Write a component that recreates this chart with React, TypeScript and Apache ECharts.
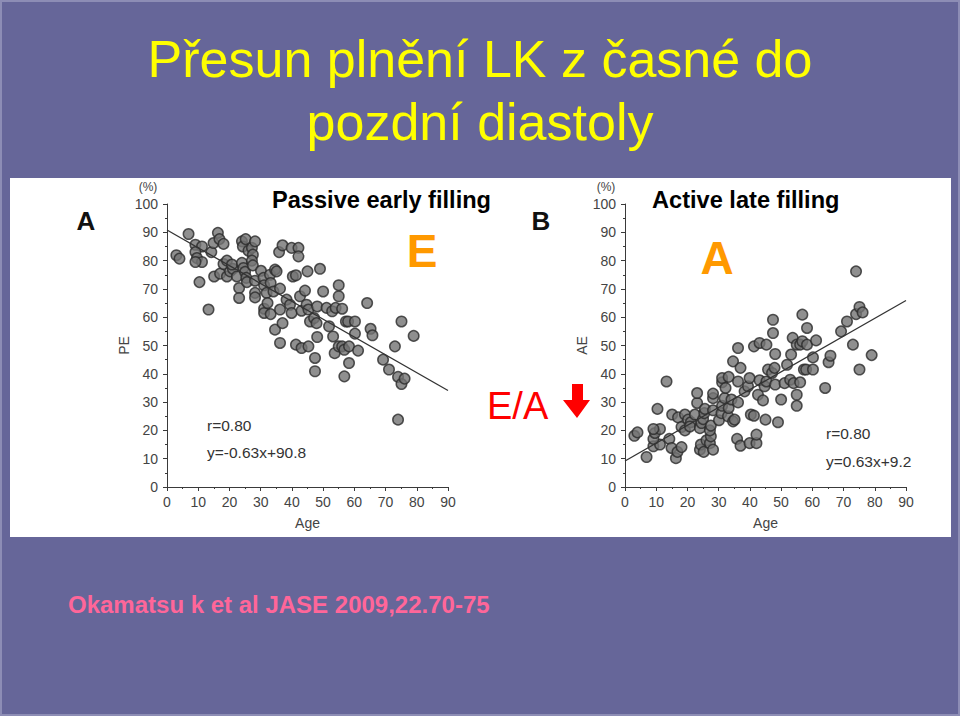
import React, { useEffect, useRef } from "react";
import * as echarts from "echarts";

const FONT = "'Liberation Sans', Arial, Helvetica, sans-serif";

// Ages of subjects (x) – same subjects in both panels
const ages = [3.0,4.0,6.9,9.1,11.2,9.1,9.6,11.2,9.1,10.4,13.3,14.2,14.9,16.3,16.8,18.1,15.1,17.0,18.1,19.2,19.2,20.2,21.1,20.8,22.4,23.1,23.1,24.0,24.3,25.2,24.0,24.5,25.0,25.4,25.6,26.1,27.2,27.5,27.2,27.5,28.2,28.2,28.2,28.2,30.1,30.9,31.1,31.1,31.1,31.9,32.2,33.0,33.2,33.2,34.1,34.6,35.1,34.6,35.9,36.2,36.2,36.2,37.0,37.0,38.3,39.4,39.9,40.3,39.9,41.3,42.1,42.1,41.3,43.1,42.6,43.1,44.2,44.7,45.0,45.3,45.3,45.8,47.1,47.9,47.4,47.4,48.1,48.1,49.0,50.0,51.1,51.9,53.2,53.7,52.9,54.0,55.0,55.0,55.0,56.1,56.1,56.8,56.8,57.3,58.0,58.3,58.3,60.2,60.2,61.2,64.1,65.2,65.8,69.2,71.1,73.0,74.0,75.1,75.1,76.1,74.0,79.0];

// Panel A: passive early filling (PE, %)
const peValues = [81.9,80.7,89.4,85.6,85.0,83.0,80.9,79.5,79.5,72.4,62.7,83.0,86.2,89.8,87.6,85.9,74.4,75.4,78.8,80.0,74.4,76.2,77.1,78.6,74.4,70.3,66.8,86.8,85.0,87.6,79.2,77.4,76.0,73.9,72.4,83.5,84.5,82.1,80.0,78.3,86.8,72.9,68.6,67.0,76.4,73.9,71.3,63.0,61.5,68.6,65.0,75.0,72.1,61.1,69.1,76.8,76.2,55.6,83.0,70.1,62.7,50.9,85.4,57.9,66.2,64.4,84.5,74.4,61.5,74.8,84.5,81.5,50.3,49.1,67.4,62.3,69.4,64.4,76.2,62.7,49.7,58.5,59.7,57.9,45.6,40.9,63.8,53.0,77.1,69.1,63.3,56.8,53.2,47.3,62.1,63.3,71.3,67.4,49.7,63.0,49.7,48.5,39.1,58.5,58.5,49.7,43.8,58.5,54.2,48.2,65.0,55.9,53.6,45.0,41.5,49.7,38.9,58.5,36.4,38.3,23.8,53.4];

// Panel B: active late filling (AE, %)
const aeValues = [18.1,19.3,10.6,14.4,15.0,17.0,19.1,20.5,20.5,27.6,37.3,17.0,13.8,10.2,12.4,14.1,25.6,24.6,21.2,20.0,25.6,23.8,22.9,21.4,25.6,29.7,33.2,13.2,15.0,12.4,20.8,22.6,24.0,26.1,27.6,16.5,15.5,17.9,20.0,21.7,13.2,27.1,31.4,33.0,23.6,26.1,28.7,37.0,38.5,31.4,35.0,25.0,27.9,38.9,30.9,23.2,23.8,44.4,17.0,29.9,37.3,49.1,14.6,42.1,33.8,35.6,15.5,25.6,38.5,25.2,15.5,18.5,49.7,50.9,32.6,37.7,30.6,35.6,23.8,37.3,50.3,41.5,40.3,42.1,54.4,59.1,36.2,47.0,22.9,30.9,36.7,43.2,46.8,52.7,37.9,36.7,28.7,32.6,50.3,37.0,50.3,51.5,60.9,41.5,41.5,50.3,56.2,41.5,45.8,51.8,35.0,44.1,46.4,55.0,58.5,50.3,61.1,41.5,63.6,61.7,76.2,46.6];

// Regression lines (endpoints at Age 0 and 90)
const regA = [[0, 90.8], [90, 34.1]];
const regB = [[0, 9.2], [90, 65.9]];

const titleLines = ["Přesun plnění LK z časné do", "pozdní diastoly"];
const citation = "Okamatsu k et al JASE 2009,22.70-75";

function axisPair(gridIndex: number, yName: string) {
  const common = {
    axisLine: { show: true, lineStyle: { color: "#3a3a3a", width: 1 } },
    axisTick: { show: true, length: 4, lineStyle: { color: "#3a3a3a" } },
    minorTick: { show: true, splitNumber: 2, length: 2, lineStyle: { color: "#3a3a3a" } },
    splitLine: { show: false },
    axisLabel: { color: "#444", fontSize: 14, fontFamily: FONT },
    nameTextStyle: { color: "#444", fontSize: 14, fontFamily: FONT },
  };
  const x = {
    ...common,
    type: "value",
    gridIndex,
    min: 0,
    max: 90,
    interval: 10,
    name: "Age",
    nameLocation: "middle",
    nameGap: 29,
    axisLabel: { ...common.axisLabel, margin: 8 },
  };
  const y = {
    ...common,
    type: "value",
    gridIndex,
    min: 0,
    max: 100,
    interval: 10,
    name: yName,
    nameLocation: "middle",
    nameGap: 36,
    axisLabel: { ...common.axisLabel, margin: 9 },
  };
  return { x, y };
}

export default function App() {
  const ref = useRef<HTMLDivElement>(null);
  useEffect(() => {
    if (!ref.current) return;
    const chart = echarts.init(ref.current, undefined, { renderer: "svg" });
    const a = axisPair(0, "PE");
    const b = axisPair(1, "AE");
    const ptsA = ages.map((x, i) => [x, peValues[i]]);
    const ptsB = ages.map((x, i) => [x, aeValues[i]]);
    const dot = {
      color: "#737373",
      borderColor: "#2a2a2a",
      borderWidth: 1.5,
    };
    const txt = (x: number, y: number, text: string, style: any) => ({
      type: "text",
      x,
      y,
      z: 50,
      style: {
        text,
        fontFamily: FONT,
        verticalAlign: "middle",
        align: "left",
        ...style,
      },
    });
    chart.setOption({
      animation: false,
      backgroundColor: "#666699",
      grid: [
        { left: 167, top: 204, width: 281, height: 283 },
        { left: 625, top: 204, width: 281, height: 283 },
      ],
      xAxis: [a.x, b.x],
      yAxis: [a.y, b.y],
      series: [
        {
          type: "scatter",
          xAxisIndex: 0,
          yAxisIndex: 0,
          data: ptsA,
          symbolSize: 10.5,
          itemStyle: dot,
          z: 3,
        },
        {
          type: "line",
          xAxisIndex: 0,
          yAxisIndex: 0,
          data: regA,
          symbol: "none",
          lineStyle: { color: "#333", width: 1.3 },
          z: 4,
        },
        {
          type: "scatter",
          xAxisIndex: 1,
          yAxisIndex: 1,
          data: ptsB,
          symbolSize: 10.5,
          itemStyle: dot,
          z: 3,
        },
        {
          type: "line",
          xAxisIndex: 1,
          yAxisIndex: 1,
          data: regB,
          symbol: "none",
          lineStyle: { color: "#333", width: 1.3 },
          z: 4,
        },
      ],
      graphic: [
        {
          type: "rect",
          z: -10,
          shape: { x: 10, y: 178, width: 941, height: 359 },
          style: { fill: "#ffffff" },
        },
        {
          type: "rect",
          z: -10,
          shape: { x: 1, y: 1, width: 958, height: 714 },
          style: { fill: "none", stroke: "#8d8db5", lineWidth: 2 },
        },
        txt(480, 59, titleLines[0], { fill: "#ffff00", fontSize: 52, align: "center" }),
        txt(480, 122, titleLines[1], { fill: "#ffff00", fontSize: 52, align: "center" }),
        txt(272, 200, "Passive early filling", { fill: "#000", fontSize: 23.6, fontWeight: "bold" }),
        txt(652, 200, "Active late filling", { fill: "#000", fontSize: 23.6, fontWeight: "bold" }),
        txt(422, 251, "E", { fill: "#ff9900", fontSize: 46, fontWeight: "bold", align: "center" }),
        txt(717, 258, "A", { fill: "#ff9900", fontSize: 46, fontWeight: "bold", align: "center" }),
        txt(487, 406, "E/A", { fill: "#ff0000", fontSize: 38 }),
        {
          type: "polygon",
          z: 50,
          shape: {
            points: [
              [572, 384], [583, 384], [583, 400], [590, 400],
              [577, 418], [563, 400], [572, 400],
            ],
          },
          style: { fill: "#ff0000" },
        },
        txt(86, 221, "A", { fill: "#111", fontSize: 26, fontWeight: "bold", align: "center" }),
        txt(541, 221, "B", { fill: "#111", fontSize: 26, fontWeight: "bold", align: "center" }),
        txt(148, 187, "(%)", { fill: "#444", fontSize: 12, align: "center" }),
        txt(606, 187, "(%)", { fill: "#444", fontSize: 12, align: "center" }),
        txt(207, 425, "r=0.80", { fill: "#333", fontSize: 15.5 }),
        txt(207, 452, "y=-0.63x+90.8", { fill: "#333", fontSize: 15.5 }),
        txt(826, 433, "r=0.80", { fill: "#333", fontSize: 15.5 }),
        txt(826, 461, "y=0.63x+9.2", { fill: "#333", fontSize: 15.5 }),
        txt(68, 604, citation, { fill: "#ff6699", fontSize: 24, fontWeight: "bold" }),
      ],
    });
    return () => chart.dispose();
  }, []);
  return (
    <div
      ref={ref}
      style={{ position: "fixed", left: 0, top: 0, width: 960, height: 716 }}
    />
  );
}
